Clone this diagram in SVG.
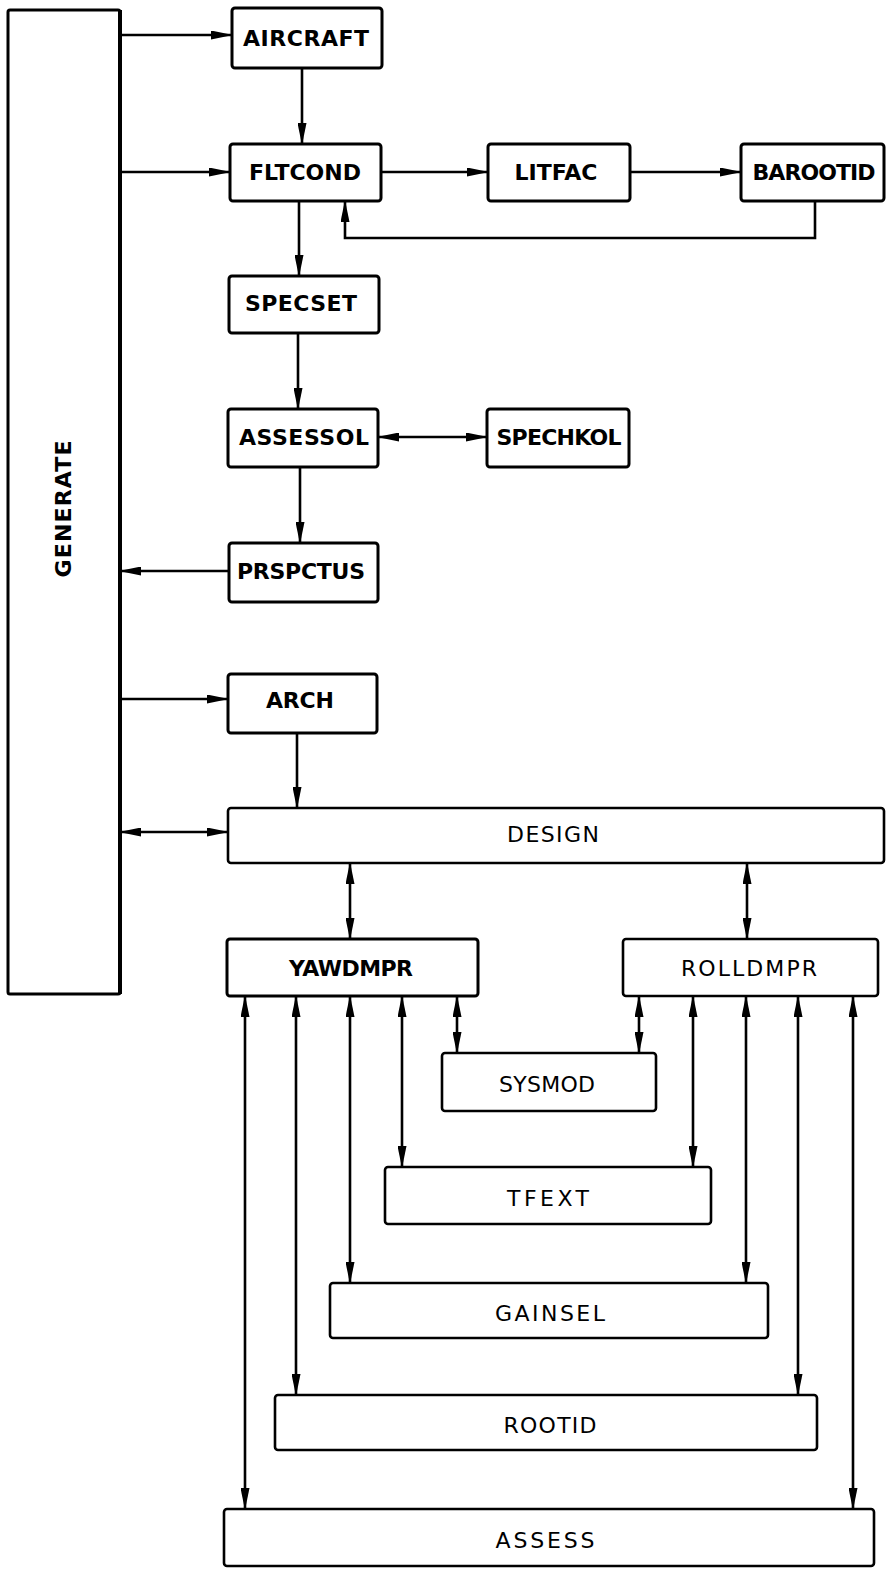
<svg xmlns="http://www.w3.org/2000/svg" width="886" height="1574" viewBox="0 0 886 1574">
<defs>
<marker id="ah" markerUnits="userSpaceOnUse" markerWidth="22" markerHeight="9" refX="21" refY="4.5" orient="auto-start-reverse">
<path d="M0,0 L22,4.5 L0,9 z" fill="#000"/>
</marker>
<style>
.box{fill:#fff;stroke:#000;stroke-width:3}
.bx2{fill:#fff;stroke:#000;stroke-width:2.6}
.t{font-family:"DejaVu Sans","Liberation Sans",sans-serif;font-size:22px;font-weight:bold;text-anchor:middle;dominant-baseline:central;fill:#000}
.tl{font-family:"DejaVu Sans","Liberation Sans",sans-serif;font-size:22px;font-weight:normal;text-anchor:middle;dominant-baseline:central;fill:#000}
.c{fill:none;stroke:#000;stroke-width:2.6}
.a{marker-end:url(#ah)}
.d{marker-start:url(#ah);marker-end:url(#ah)}
</style>
</defs>
<rect width="886" height="1574" fill="#fff"/>

<g id="connectors">
<line class="c a" x1="120" y1="35" x2="232" y2="35"/>
<line class="c a" x1="120" y1="172" x2="230" y2="172"/>
<line class="c a" x1="302" y1="68" x2="302" y2="144"/>
<line class="c a" x1="381" y1="172" x2="488" y2="172"/>
<line class="c a" x1="630" y1="172" x2="741" y2="172"/>
<polyline class="c a" points="815,201 815,238 345,238 345,201"/>
<line class="c a" x1="299" y1="201" x2="299" y2="276"/>
<line class="c a" x1="298" y1="333" x2="298" y2="409"/>
<line class="c d" x1="378" y1="437" x2="487" y2="437"/>
<line class="c a" x1="300" y1="467" x2="300" y2="543"/>
<line class="c a" x1="229" y1="571" x2="120" y2="571"/>
<line class="c a" x1="120" y1="699" x2="228" y2="699"/>
<line class="c a" x1="297" y1="733" x2="297" y2="808"/>
<line class="c d" x1="120" y1="832" x2="228" y2="832"/>
<line class="c d" x1="350" y1="863" x2="350" y2="939"/>
<line class="c d" x1="747" y1="863" x2="747" y2="939"/>
<line class="c d" x1="245" y1="996" x2="245" y2="1509"/>
<line class="c d" x1="296" y1="996" x2="296" y2="1395"/>
<line class="c d" x1="350" y1="996" x2="350" y2="1283"/>
<line class="c d" x1="402" y1="996" x2="402" y2="1167"/>
<line class="c d" x1="457" y1="996" x2="457" y2="1053"/>
<line class="c d" x1="639" y1="996" x2="639" y2="1053"/>
<line class="c d" x1="693" y1="996" x2="693" y2="1167"/>
<line class="c d" x1="746" y1="996" x2="746" y2="1283"/>
<line class="c d" x1="798" y1="996" x2="798" y2="1395"/>
<line class="c d" x1="853" y1="996" x2="853" y2="1509"/>
</g>

<g id="generate">
<rect class="box" x="8" y="10" width="112" height="984" rx="2"/>
<line x1="120" y1="10" x2="120" y2="994" stroke="#000" stroke-width="4"/>
<text class="t" x="0" y="0" transform="translate(63,509) rotate(-90)" textLength="137" lengthAdjust="spacing">GENERATE</text>
</g>
<g id="aircraft"><rect class="box" x="232" y="8" width="150" height="60" rx="3"/><text class="t" x="306" y="38" textLength="126" lengthAdjust="spacing">AIRCRAFT</text></g>
<g id="fltcond"><rect class="box" x="230" y="144" width="151" height="57" rx="3"/><text class="t" x="305" y="172" textLength="112" lengthAdjust="spacing">FLTCOND</text></g>
<g id="litfac"><rect class="box" x="488" y="144" width="142" height="57" rx="3"/><text class="t" x="556" y="172" textLength="83" lengthAdjust="spacing">LITFAC</text></g>
<g id="barootid"><rect class="box" x="741" y="144" width="143" height="57" rx="3"/><text class="t" x="814" y="172" textLength="123" lengthAdjust="spacing">BAROOTID</text></g>
<g id="specset"><rect class="box" x="229" y="276" width="150" height="57" rx="3"/><text class="t" x="301" y="303" textLength="112" lengthAdjust="spacing">SPECSET</text></g>
<g id="assessol"><rect class="box" x="228" y="409" width="150" height="58" rx="3"/><text class="t" x="304" y="437" textLength="130" lengthAdjust="spacing">ASSESSOL</text></g>
<g id="spechkol"><rect class="box" x="487" y="409" width="142" height="58" rx="3"/><text class="t" x="559" y="437" textLength="125" lengthAdjust="spacing">SPECHKOL</text></g>
<g id="prspctus"><rect class="box" x="229" y="543" width="149" height="59" rx="3"/><text class="t" x="301" y="571" textLength="128" lengthAdjust="spacing">PRSPCTUS</text></g>
<g id="arch"><rect class="box" x="228" y="674" width="149" height="59" rx="3"/><text class="t" x="300" y="700" textLength="68" lengthAdjust="spacing">ARCH</text></g>
<g id="design"><rect class="bx2" x="228" y="808" width="656" height="55" rx="3"/><text class="tl" x="553" y="834" textLength="92" lengthAdjust="spacing">DESIGN</text></g>
<g id="yawdmpr"><rect class="box" x="227" y="939" width="251" height="57" rx="3"/><text class="t" x="351" y="968" textLength="124" lengthAdjust="spacing">YAWDMPR</text></g>
<g id="rolldmpr"><rect class="bx2" x="623" y="939" width="255" height="57" rx="3"/><text class="tl" x="749" y="968" textLength="136" lengthAdjust="spacing">ROLLDMPR</text></g>
<g id="sysmod"><rect class="bx2" x="442" y="1053" width="214" height="58" rx="3"/><text class="tl" x="547" y="1084" textLength="96" lengthAdjust="spacing">SYSMOD</text></g>
<g id="tfext"><rect class="bx2" x="385" y="1167" width="326" height="57" rx="3"/><text class="tl" x="548" y="1198" textLength="82" lengthAdjust="spacing">TFEXT</text></g>
<g id="gainsel"><rect class="bx2" x="330" y="1283" width="438" height="55" rx="3"/><text class="tl" x="550" y="1313" textLength="110" lengthAdjust="spacing">GAINSEL</text></g>
<g id="rootid"><rect class="bx2" x="275" y="1395" width="542" height="55" rx="3"/><text class="tl" x="550" y="1425" textLength="93" lengthAdjust="spacing">ROOTID</text></g>
<g id="assess"><rect class="bx2" x="224" y="1509" width="650" height="57" rx="3"/><text class="tl" x="545" y="1540" textLength="99" lengthAdjust="spacing">ASSESS</text></g>
</svg>
